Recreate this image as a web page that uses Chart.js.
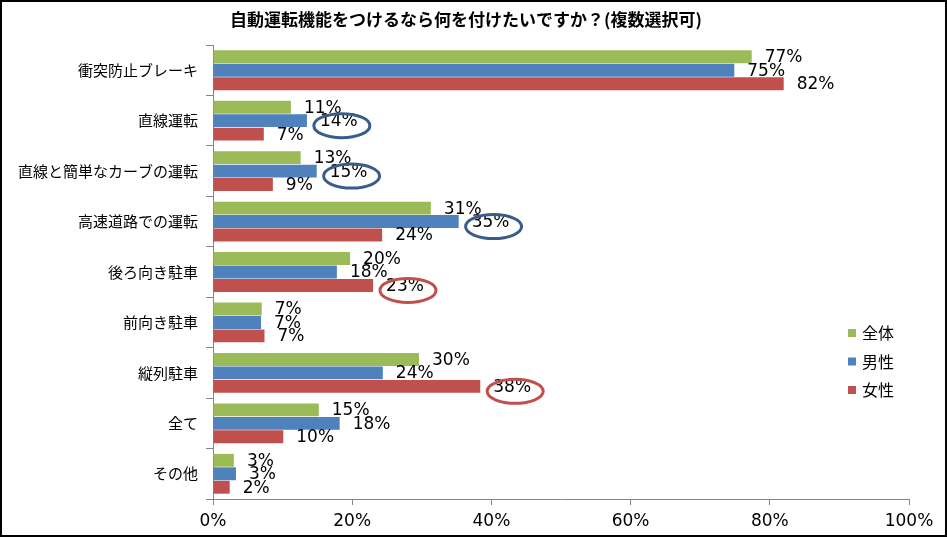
<!DOCTYPE html>
<html lang="ja">
<head>
  <meta charset="UTF-8" />
  <title>自動運転機能をつけるなら何を付けたいですか？(複数選択可)</title>
  <script src="https://cdn.jsdelivr.net/npm/chart.js"></script>
  <style>
    body { margin: 0; background: #fff; }
    canvas { display: block; }
  </style>
</head>
<body>
  <canvas id="chart" width="947" height="537"></canvas>

  <script>
    const titleText = "自動運転機能をつけるなら何を付けたいですか？(複数選択可)";
    const categories = ["衝突防止ブレーキ", "直線運転", "直線と簡単なカーブの運転", "高速道路での運転", "後ろ向き駐車", "前向き駐車", "縦列駐車", "全て", "その他"];
    const seriesNames = ["全体", "男性", "女性"];
    const allValues = [77.4, 11.2, 12.6, 31.3, 19.7, 7.0, 29.6, 15.2, 3.0];
    const maleValues = [74.9, 13.5, 14.9, 35.3, 17.8, 6.9, 24.4, 18.2, 3.3];
    const femaleValues = [82.0, 7.3, 8.6, 24.3, 23.0, 7.4, 38.4, 10.1, 2.4];
    const xTicks = [0, 20, 40, 60, 80, 100];
    // circled labels: [dataset, category]
    const circled = [[1, 1], [1, 2], [1, 3], [2, 4], [2, 6]];

    const colors = ["#9BBB59", "#4F81BD", "#C0504D"];
    const circleColors = ["#9BBB59", "#385D8A", "#C0504D"];
    const labelFont = "17px 'DejaVu Sans', Verdana, sans-serif";

    const extras = {
      id: "extras",
      afterDatasetsDraw(chart) {
        const c = chart.ctx;
        c.save();
        c.font = labelFont;
        c.fillStyle = "#000";
        c.textBaseline = "middle";
        c.textAlign = "left";
        chart.data.datasets.forEach((ds, di) => {
          chart.getDatasetMeta(di).data.forEach((bar, i) => {
            const txt = Math.round(ds.data[i]) + "%";
            const x = bar.x + 13;
            const y = bar.y + 1;
            c.fillText(txt, x, y);
            if (circled.some(p => p[0] === di && p[1] === i)) {
              const w = c.measureText(txt).width;
              c.beginPath();
              c.ellipse(x + w / 2 + 3, y + 4, 28, 12, 0, 0, Math.PI * 2);
              c.lineWidth = 3;
              c.strokeStyle = circleColors[di];
              c.stroke();
            }
          });
        });

        // title
        c.font = "bold 17px 'Noto Sans CJK JP', sans-serif";
        c.textAlign = "center";
        c.fillText(titleText, 466, 20);

        // legend
        c.font = "16px 'Noto Sans CJK JP', sans-serif";
        c.textAlign = "left";
        seriesNames.forEach((name, i) => {
          const y = 333 + i * 28.5;
          c.fillStyle = colors[i];
          c.fillRect(848, y - 4, 8, 8);
          c.fillStyle = "#000";
          c.fillText(name, 862, y);
        });

        // outer frame
        c.lineWidth = 2;
        c.strokeStyle = "#000";
        c.strokeRect(1, 1, 945, 535);
        c.restore();
      }
    };

    new Chart(document.getElementById("chart"), {
      type: "bar",
      data: {
        labels: categories,
        datasets: [
          { label: seriesNames[0], data: allValues, backgroundColor: colors[0] },
          { label: seriesNames[1], data: maleValues, backgroundColor: colors[1] },
          { label: seriesNames[2], data: femaleValues, backgroundColor: colors[2] }
        ]
      },
      options: {
        indexAxis: "y",
        responsive: false,
        animation: false,
        devicePixelRatio: 1,
        categoryPercentage: 0.8,
        barPercentage: 0.96,
        layout: { padding: { top: 45, right: 38, left: 0, bottom: 0 } },
        plugins: {
          legend: { display: false },
          title: { display: false },
          tooltip: { enabled: false }
        },
        scales: {
          x: {
            min: 0,
            max: 100,
            afterFit: s => { s.height = 38; },
            afterBuildTicks: s => { s.ticks = xTicks.map(v => ({ value: v })); },
            grid: { drawOnChartArea: false, drawTicks: true, tickLength: 6, color: "#868686" },
            border: { color: "#868686" },
            ticks: {
              padding: 6,
              color: "#000",
              font: { family: "'DejaVu Sans', Verdana, sans-serif", size: 17 },
              callback: v => v + "%"
            }
          },
          y: {
            afterFit: s => { s.width = 213; },
            grid: { drawOnChartArea: false, drawTicks: true, tickLength: 7, color: "#868686", offset: true },
            border: { color: "#868686" },
            ticks: {
              padding: 8,
              color: "#000",
              font: { family: "'Noto Sans CJK JP', sans-serif", size: 15 }
            }
          }
        }
      },
      plugins: [extras]
    });
  </script>
</body>
</html>
